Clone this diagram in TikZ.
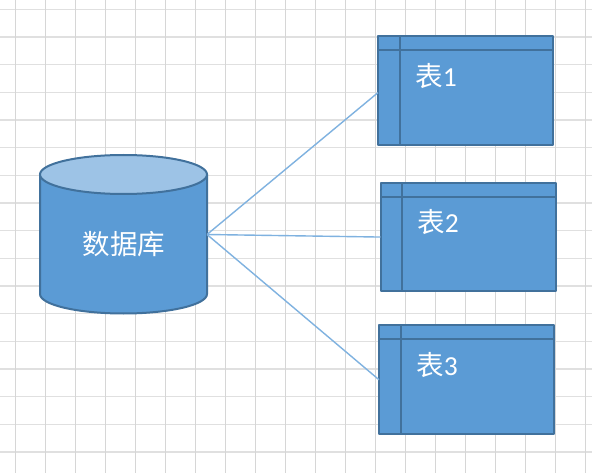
\documentclass[tikz,border=0pt]{standalone}
\usepackage{fontspec}
\setmainfont{Carlito}
\newfontfamily\cjk{Noto Sans CJK SC}
\definecolor{gridv}{HTML}{D6D6D6}
\definecolor{gridh}{HTML}{E0E0E0}
\definecolor{shapefill}{HTML}{5B9BD5}
\definecolor{shapeline}{HTML}{41719C}
\definecolor{toplid}{HTML}{9DC3E6}
\definecolor{linkline}{HTML}{7FB2E0}
\tikzset{
  gridvline/.style={gridv,line width=1.3pt},
  gridhline/.style={gridh,line width=1.5pt},
  shapebody/.style={fill=shapefill,draw=shapeline,line width=2pt,line join=round},
  lidshape/.style={fill=toplid,draw=shapeline,line width=2pt},
  innerrule/.style={draw=shapeline,line width=2pt},
  tablebox/.style={rectangle,shapebody,inner sep=0pt,outer sep=0pt,anchor=north west},
  linktext/.style={draw=linkline,line width=1.4pt},
  whitelabel/.style={text=white,font=\fontsize{27.5}{30}\selectfont,inner sep=0pt,anchor=center}
}
\begin{document}
\begin{tikzpicture}[x=1pt,y=-1pt]
\useasboundingbox (0,0) rectangle (600,473);
\fill[white] (0,0) rectangle (600,473);
% grid
\foreach \i in {0,...,16} {
  \draw[gridhline] (0,{9.3+27.67*\i}) -- (592,{9.3+27.67*\i});
}
\foreach \i in {0,...,19} {
  \draw[gridvline] ({15.4+30*\i},0) -- ({15.4+30*\i},473);
}
% database
\draw[shapebody] (40,174.5) -- (40,294) arc[start angle=180,end angle=0,x radius=83.5,y radius=19.5] -- (207,174.5) -- cycle;
\draw[lidshape] (123.5,174.5) ellipse[x radius=83.5,y radius=19.5];
\node[whitelabel] (dblabel) at (124,244.5) {\cjk 数据库};
\coordinate (db) at (207,234.5);
% tables
\node[tablebox,minimum width=175pt,minimum height=108.7pt] (t1) at (378,36.4) {};
\node[tablebox,minimum width=175pt,minimum height=108.7pt] (t2) at (380.5,182.7) {};
\node[tablebox,minimum width=175pt,minimum height=108.7pt] (t3) at (379,325.4) {};
\draw[innerrule] (400,36.4) -- (400,145.1) (378,50) -- (553,50);
\draw[innerrule] (402.4,182.7) -- (402.4,291.4) (380.5,196.6) -- (555.5,196.6);
\draw[innerrule] (401,325.4) -- (401,434.1) (379,339) -- (554,339);
\node[whitelabel] (l1) at (436,76) {{\cjk 表}1};
\node[whitelabel] (l2) at (438,222) {{\cjk 表}2};
\node[whitelabel] (l3) at (437,365.5) {{\cjk 表}3};
% connectors
\coordinate (t1in) at (378,92.6);
\draw[linktext] (db) -- (t1in);
\draw[linktext] (db) -- (t2.west);
\draw[linktext] (db) -- (t3.west);
\end{tikzpicture}
\end{document}
